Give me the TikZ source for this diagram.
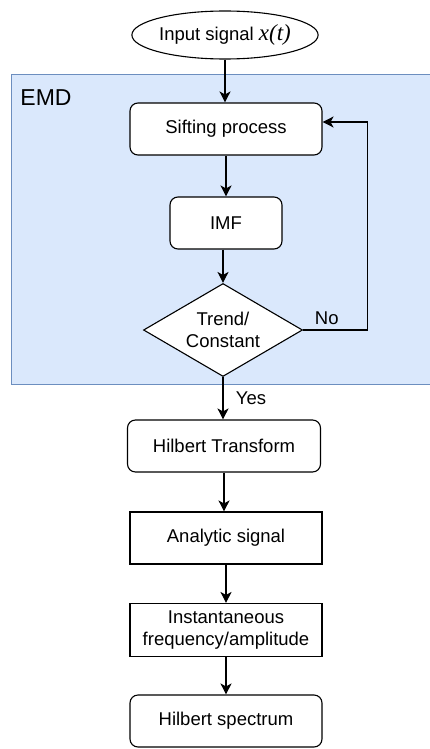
\documentclass[tikz,border=0pt]{standalone}
\usepackage{fontspec}
\setmainfont{Liberation Sans}
\newfontfamily\timesfont{Liberation Serif}
\usetikzlibrary{arrows.meta,positioning,shapes.geometric}
\definecolor{emdfill}{HTML}{DAE8FC}
\definecolor{emdline}{HTML}{6C8EBF}

\begin{document}
\begin{tikzpicture}[x=1pt,y=-1pt,
  every node/.style={font=\fontsize{18.5}{21.5}\selectfont},
  box/.style={draw, fill=white, line width=1.1pt, minimum width=192pt, minimum height=52pt, inner sep=0pt, align=center},
  rbox/.style={box, rounded corners=8pt},
  decide/.style={draw, fill=white, diamond, line width=1.1pt, minimum width=159pt, minimum height=93pt, aspect=1.7, inner sep=0pt, align=center},
  startnode/.style={draw, fill=white, ellipse, line width=1.1pt, minimum width=156pt, minimum height=48pt, inner sep=0pt},
  flow/.style={-{Stealth[length=11pt,width=11pt,inset=3pt]}, line width=1.1pt},
]
\useasboundingbox (0,0) rectangle (429,749);
% EMD container (runs past the right edge)
\draw[emdline, fill=emdfill, line width=1pt] (11,75) rectangle (440,384);
\node[font=\fontsize{23}{26}\selectfont] (emdlabel) at (46,98) {EMD};

% nodes
\node[startnode] (in) at (225,35) {Input signal {\timesfont\itshape\fontsize{23}{26}\selectfont x(t)}};
\node[rbox] (sift) at (226,129) {Sifting process};
\node[rbox, minimum width=112pt] (imf) at (226,223) {IMF};
\node[decide] (trend) at (223,330) {Trend/\\Constant};
\node[rbox, minimum width=193pt] (hilb) at (224,446) {Hilbert Transform};
\node[box] (ana) at (226,538) {Analytic signal};
\node[box, minimum height=53pt] (inst) at (226,630) {Instantaneous\\frequency/amplitude};
\node[rbox] (spec) at (226,721) {Hilbert spectrum};

% connectors
\draw[flow] (trend.east) -- ++(64,0) node[pos=0, above right=1pt and 8pt] (no) {No}
  |- ([yshift=7pt]sift.east);
\draw[flow] (in) -- (in |- sift.north);
\draw[flow] (sift) -- (sift |- imf.north);
\draw[flow] (imf.south -| trend) -- (trend);
\draw[flow] (trend) -- (trend |- hilb.north)
  node[pos=0.5, right=9pt] (yes) {Yes};
\draw[flow] (hilb) -- (hilb |- ana.north);
\draw[flow] (ana) -- (ana |- inst.north);
\draw[flow] (inst) -- (inst |- spec.north);
\end{tikzpicture}
\end{document}
